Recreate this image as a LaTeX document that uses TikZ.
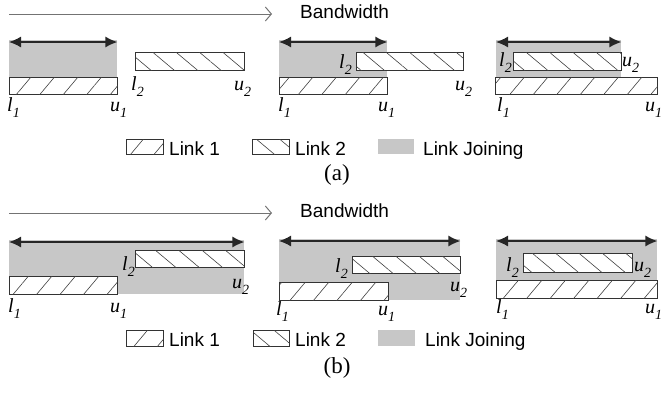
\documentclass[tikz,border=0pt]{standalone}
\usepackage{fontspec}
\setmainfont{Liberation Serif}
\newfontfamily\arialfont{Liberation Sans}
\usetikzlibrary{arrows.meta,patterns.meta}

% bound label: letter with a big italic subscript
\newcommand{\bnd}[2]{\textit{#1}\raisebox{-6pt}{\fontsize{14}{14}\selectfont\textit{#2}}}

\tikzset{
  linkbox/.style={draw=black!80, line width=1pt, inner sep=0pt, anchor=north west},
  linkone/.style={linkbox, fill=white, postaction={pattern={Lines[angle=50,distance=18pt,line width=0.6pt]}, pattern color=black!75}},
  linktwo/.style={linkbox, fill=white, postaction={pattern={Lines[angle=-40,distance=15pt,line width=0.6pt]}, pattern color=black!75}},
  joinbox/.style={fill=black!22, inner sep=0pt, anchor=north west},
  spanarrow/.style={{Latex[length=12pt,width=11pt]}-{Latex[length=12pt,width=11pt]}, line width=1.3pt, draw=black!85},
  bwline/.style={-{Straight Barb[length=6pt,width=14pt]}, line width=1pt, draw=black!55},
  txt/.style={font=\arialfont\fontsize{19}{19}\selectfont, inner sep=0pt},
  bndlab/.style={font=\fontsize{20}{20}\selectfont, inner sep=0pt, anchor=base west},
  captxt/.style={font=\fontsize{23}{23}\selectfont, inner sep=0pt}
}

\begin{document}
\begin{tikzpicture}[x=1pt, y=-1pt]
  \useasboundingbox (0,0) rectangle (663,394);

  % ---------------- Panel (a) ----------------
  \coordinate (bwa0) at (9,14);
  \node[txt, anchor=west] (bwa) at (300,12) {Bandwidth};
  \draw[bwline] (bwa0) -- ([xshift=-28pt,yshift=-2pt]bwa.west);

  % Case 1: links apart
  \node[joinbox, minimum width=108pt, minimum height=37pt] (ja1) at (9,40) {};
  \node[linkone, minimum width=108pt, minimum height=17pt] (la1) at (9,77) {};
  \node[linktwo, minimum width=109pt, minimum height=18pt] (ma1) at (135,52) {};
  \draw[spanarrow] ([yshift=-2pt]ja1.north west) -- ([yshift=-2pt]ja1.north east);
  \node[bndlab] (la1l) at (7,111) {\bnd{l}{1}};
  \node[bndlab] (la1u) at (110,111) {\bnd{u}{1}};
  \node[bndlab] (ma1l) at (131,90) {\bnd{l}{2}};
  \node[bndlab] (ma1u) at (234,90) {\bnd{u}{2}};

  % Case 2: links overlap
  \node[joinbox, minimum width=108pt, minimum height=37pt] (ja2) at (279,40) {};
  \node[linkone, minimum width=108pt, minimum height=17pt] (la2) at (279,77) {};
  \node[linktwo, minimum width=107pt, minimum height=18pt] (ma2) at (356,52) {};
  \draw[spanarrow] ([yshift=-2pt]ja2.north west) -- ([yshift=-2pt]ja2.north east);
  \node[bndlab] (la2l) at (278,111) {\bnd{l}{1}};
  \node[bndlab] (la2u) at (378,111) {\bnd{u}{1}};
  \node[bndlab] (ma2l) at (339,68) {\bnd{l}{2}};
  \node[bndlab] (ma2u) at (455,90) {\bnd{u}{2}};

  % Case 3: link 2 inside link 1
  \node[joinbox, minimum width=125pt, minimum height=37pt] (ja3) at (496,40) {};
  \node[linkone, minimum width=162pt, minimum height=17pt] (la3) at (495,77) {};
  \node[linktwo, minimum width=108pt, minimum height=18pt] (ma3) at (513,52) {};
  \draw[spanarrow] ([yshift=-2pt]ja3.north west) -- ([yshift=-2pt]ja3.north east);
  \node[bndlab] (la3l) at (497,111) {\bnd{l}{1}};
  \node[bndlab] (la3u) at (645,111) {\bnd{u}{1}};
  \node[bndlab] (ma3l) at (499,66) {\bnd{l}{2}};
  \node[bndlab] (ma3u) at (622,66) {\bnd{u}{2}};

  % Legend
  \node[linkone, minimum width=37pt, minimum height=15pt] (kya1) at (126,139) {};
  \node[txt, anchor=base west] (kta1) at (169,155) {Link 1};
  \node[linktwo, minimum width=37pt, minimum height=15pt] (kya2) at (252,139) {};
  \node[txt, anchor=base west] (kta2) at (295,155) {Link 2};
  \node[joinbox, minimum width=36pt, minimum height=15pt] (kya3) at (378,139) {};
  \node[txt, anchor=base west] (kta3) at (423,155) {Link Joining};
  \node[captxt] (capa) at (337,175) {(a)};

  % ---------------- Panel (b) ----------------
  \coordinate (bwb0) at (9,213);
  \node[txt, anchor=west] (bwb) at (300,211) {Bandwidth};
  \draw[bwline] (bwb0) -- ([xshift=-28pt,yshift=-2pt]bwb.west);

  % Case 1: links apart
  \node[joinbox, minimum width=235pt, minimum height=54pt] (jb1) at (9,240) {};
  \node[linkone, minimum width=108pt, minimum height=18pt] (lb1) at (9,276) {};
  \node[linktwo, minimum width=109pt, minimum height=17pt] (mb1) at (135,250) {};
  \draw[spanarrow] ([yshift=-2pt]jb1.north west) -- ([yshift=-2pt]jb1.north east);
  \node[bndlab] (lb1l) at (8,312) {\bnd{l}{1}};
  \node[bndlab] (lb1u) at (110,312) {\bnd{u}{1}};
  \node[bndlab] (mb1l) at (122,270) {\bnd{l}{2}};
  \node[bndlab] (mb1u) at (232,288) {\bnd{u}{2}};

  % Case 2: links overlap
  \node[joinbox, minimum width=181pt, minimum height=61pt] (jb2) at (279,239) {};
  \node[linkone, minimum width=109pt, minimum height=18pt] (lb2) at (279,282) {};
  \node[linktwo, minimum width=108pt, minimum height=17pt] (mb2) at (352,256) {};
  \draw[spanarrow] ([yshift=-2pt]jb2.north west) -- ([yshift=-2pt]jb2.north east);
  \node[bndlab] (lb2l) at (276,315) {\bnd{l}{1}};
  \node[bndlab] (lb2u) at (378,315) {\bnd{u}{1}};
  \node[bndlab] (mb2l) at (335,272) {\bnd{l}{2}};
  \node[bndlab] (mb2u) at (450,291) {\bnd{u}{2}};

  % Case 3: link 2 inside link 1
  \node[joinbox, minimum width=161pt, minimum height=41pt] (jb3) at (496,239) {};
  \node[linkone, minimum width=161pt, minimum height=18pt] (lb3) at (496,280) {};
  \node[linktwo, minimum width=109pt, minimum height=19pt] (mb3) at (523,253) {};
  \draw[spanarrow] ([yshift=-2pt]jb3.north west) -- ([yshift=-2pt]jb3.north east);
  \node[bndlab] (lb3l) at (496,313) {\bnd{l}{1}};
  \node[bndlab] (lb3u) at (645,313) {\bnd{u}{1}};
  \node[bndlab] (mb3l) at (506,271) {\bnd{l}{2}};
  \node[bndlab] (mb3u) at (634,271) {\bnd{u}{2}};

  % Legend
  \node[linkone, minimum width=37pt, minimum height=16pt] (kyb1) at (126,330) {};
  \node[txt, anchor=base west] (ktb1) at (169,346) {Link 1};
  \node[linktwo, minimum width=36pt, minimum height=16pt] (kyb2) at (253,330) {};
  \node[txt, anchor=base west] (ktb2) at (295,346) {Link 2};
  \node[joinbox, minimum width=37pt, minimum height=16pt] (kyb3) at (378,330) {};
  \node[txt, anchor=base west] (ktb3) at (425,346) {Link Joining};
  \node[captxt] (capb) at (337,368) {(b)};
\end{tikzpicture}
\end{document}
